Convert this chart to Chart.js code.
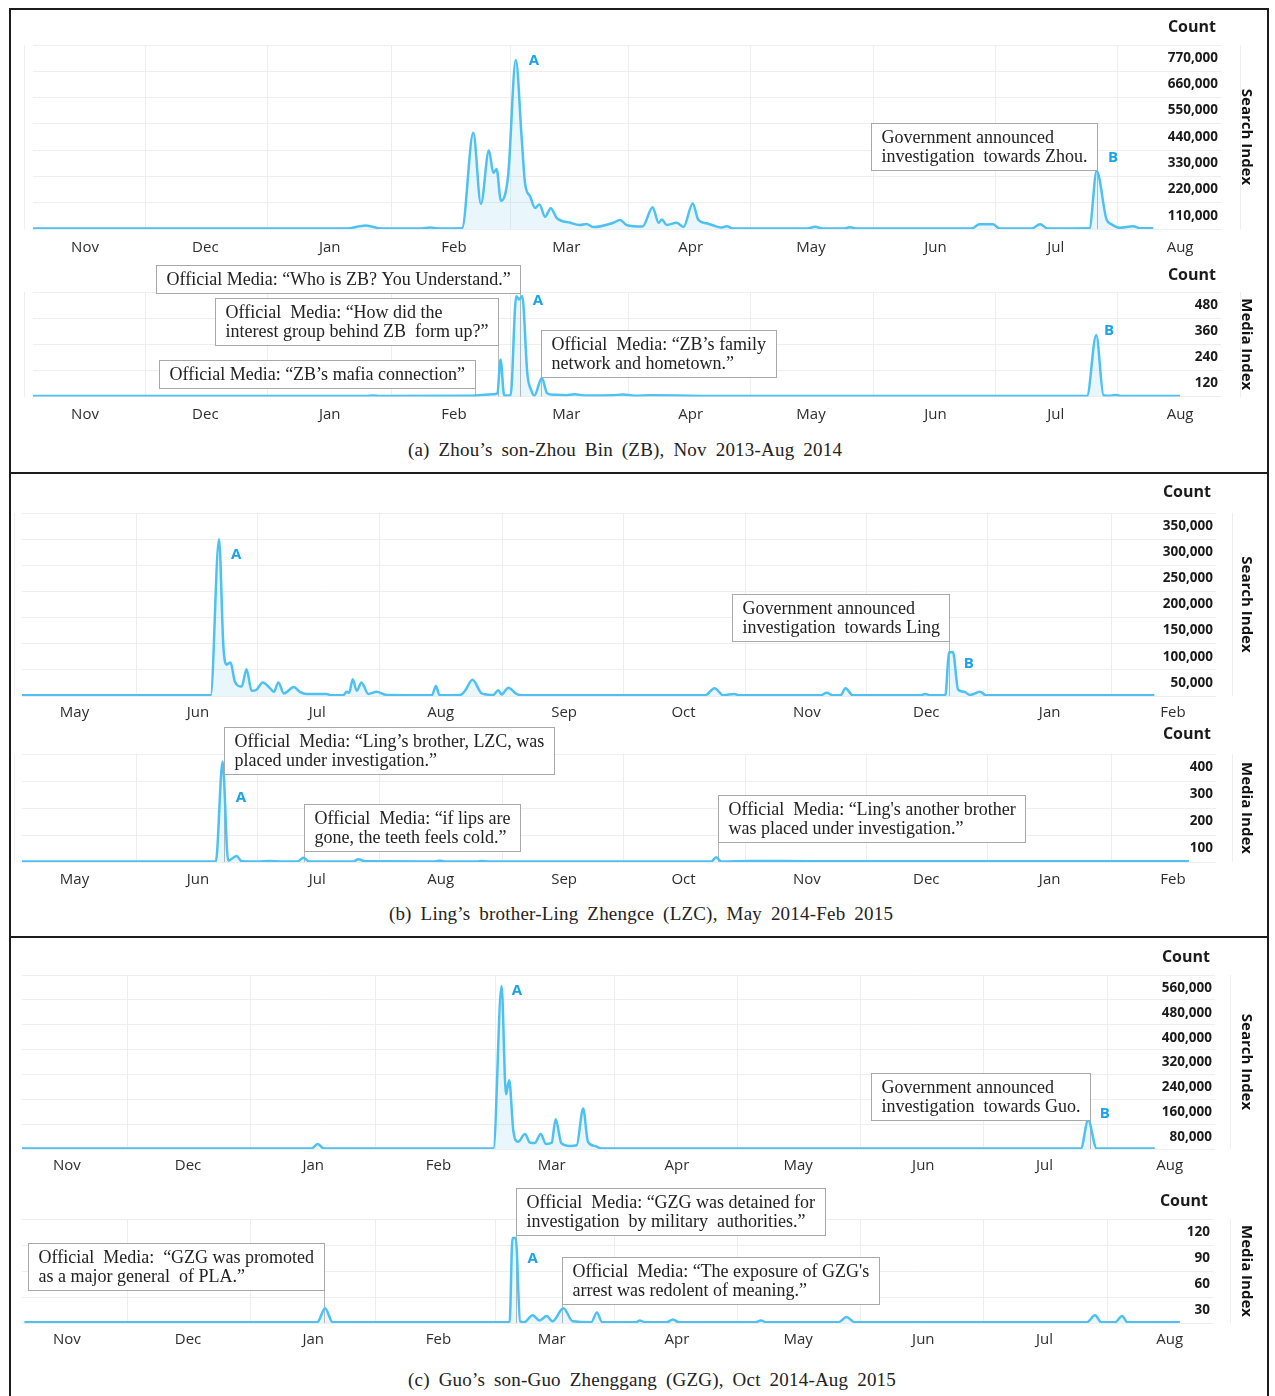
<!DOCTYPE html>
<html>
<head>
<meta charset="utf-8">
<script src="https://cdn.jsdelivr.net/npm/chart.js@4.4.1/dist/chart.umd.min.js"></script>
<style>
  html, body { margin: 0; padding: 0; background: #fff; }
  #page { position: relative; width: 1275px; height: 1396px; overflow: hidden; background: #fff; }
  .panel { position: absolute; left: 9px; width: 1260px; border: 2px solid #1c1c1c; box-sizing: border-box; }
  canvas { position: absolute; left: 10px; }
  .caption { position: absolute; width: 800px; text-align: center; white-space: nowrap;
             font-family: "Liberation Serif", "Times New Roman", serif; font-size: 19px; line-height: 22px;
             color: #222; word-spacing: 4px; letter-spacing: 0.2px; }
</style>
</head>
<body>
<div id="page">
  <div class="panel" style="top:8px;height:466px"></div>
  <div class="panel" style="top:472px;height:466px"></div>
  <div class="panel" style="top:936px;height:462px"></div>

  <canvas id="zbSearch"></canvas>
  <canvas id="zbMedia"></canvas>
  <div class="caption" style="left:225px;top:439px">(a) Zhou’s son-Zhou Bin (ZB), Nov 2013-Aug 2014</div>

  <canvas id="lzcSearch"></canvas>
  <canvas id="lzcMedia"></canvas>
  <div class="caption" style="left:241px;top:903px">(b) Ling’s brother-Ling Zhengce (LZC), May 2014-Feb 2015</div>

  <canvas id="gzgSearch"></canvas>
  <canvas id="gzgMedia"></canvas>
  <div class="caption" style="left:252px;top:1369px">(c) Guo’s son-Guo Zhenggang (GZG), Oct 2014-Aug 2015</div>
</div>

<script>
// ---------- month axes (day offsets of each month's first day) ----------
const monthsNovAug = ['Nov', 'Dec', 'Jan', 'Feb', 'Mar', 'Apr', 'May', 'Jun', 'Jul', 'Aug'];
const monthStartsNovAug = [0, 30, 61, 92, 120, 151, 181, 212, 242, 273];
const monthsMayFeb = ['May', 'Jun', 'Jul', 'Aug', 'Sep', 'Oct', 'Nov', 'Dec', 'Jan', 'Feb'];
const monthStartsMayFeb = [0, 31, 61, 92, 123, 153, 184, 214, 245, 276];

// ---------- (a) Zhou Bin, days since 1 Nov 2013 ----------
const zbSearchDay = [-13, 65, 70, 74, 84, 86, 88, 94, 96.8, 98.7, 100.7, 101.8, 102.6, 103.7, 105.5, 107.4,
  108.9, 109.7, 111, 112.2, 113.3, 114.7, 116.1, 117.6, 121, 123.4, 125, 126.7, 131.7, 133.4, 135, 139,
  141.5, 143, 143.8, 145, 147.5, 149.2, 151.5, 152.9, 155, 157.5, 158.5, 160, 161.5, 180, 182, 184,
  189, 190.7, 192.5, 221, 223, 226.4, 228, 236, 238.1, 240, 250.4, 252.2, 254.7, 255.8, 258, 261.3, 263, 266.3];
const zbSearchCount = [2000, 2000, 15000, 2000, 2000, 6000, 2000, 3000, 403000, 105000, 328000, 235000, 251000, 118000, 226000, 707000,
  372000, 192000, 135000, 88000, 103000, 51000, 87000, 46000, 26000, 17000, 21000, 8000, 26000, 38000, 17000, 10000,
  91000, 26000, 40000, 17000, 26000, 8000, 107000, 38000, 24000, 10000, 6000, 11000, 2000, 2000, 9000, 2000,
  2000, 7000, 2000, 2000, 20000, 20000, 2000, 2000, 20000, 2000, 3000, 243000, 38000, 21000, 5000, 12000, 3000, 3000];

const zbMediaDay = [-13, 70, 71.8, 73.5, 96, 101.7, 102.8, 103.6, 104.5, 106.1, 107.5, 108.3, 109.0, 110.3, 111.2,
  112.0, 113.9, 115.2, 117, 120, 122, 125, 131.6, 134.1, 137, 141, 160, 249.8, 252.1, 253.9, 255.5, 256.8, 258.5, 273];
const zbMediaCount = [2, 2, 5, 2, 3, 10, 15, 170, 5, 5, 460, 445, 462, 100, 30,
  4, 85, 15, 8, 6, 10, 5, 6, 9, 4, 6, 2, 2, 283, 6, 3, 7, 2, 2];

// ---------- (b) Ling Zhengce, days since 1 May 2014 ----------
const lzcSearchDay = [-13.2, 34.2, 36.3, 37.4, 38.2, 39.2, 40.3, 42, 43.2, 44.5, 45.7, 47.3, 49.1, 50.1, 51.2, 52.6,
  55.1, 56.6, 58.3, 63.3, 64.5, 67.5, 68.4, 69.0, 69.9, 70.9, 72.1, 73.8, 75.9, 78.4, 89.8, 90.8, 91.7,
  96.9, 98.1, 100, 102.3, 105.2, 106.5, 107.3, 109, 111, 112.7, 158.5, 160.8, 163, 165.8, 167, 187.5, 189,
  190.5, 192.5, 193.7, 195.5, 212.5, 213.8, 215, 218.8, 219.7, 220.7, 222, 223.5, 225, 227.5, 229, 271.3];
const lzcSearchCount = [1500, 1500, 300000, 95000, 60000, 64000, 27000, 18000, 51000, 10000, 12000, 26000, 15000, 8000, 26000, 5000,
  17000, 8000, 4000, 4000, 1500, 1500, 8000, 6000, 32000, 10000, 26000, 4000, 8000, 2000, 1500, 19000, 1500,
  2000, 10000, 31000, 5000, 2000, 11000, 3000, 16000, 4000, 1500, 1500, 15000, 1500, 4000, 1500, 1500, 6000,
  1500, 1500, 15000, 1500, 1500, 4000, 1500, 1500, 83000, 84000, 12000, 8000, 2000, 8000, 1500, 1500];

const lzcMediaDay = [-13.2, 35.5, 37.2, 38.6, 40.7, 42, 46, 49, 52, 56, 57.5, 59, 70, 71.3, 73, 90.5, 91.8, 93,
  101, 102.3, 104, 160, 161.2, 162.5, 170, 185, 200, 230, 250, 280];
const lzcMediaCount = [2, 2, 371, 5, 22, 3, 2, 4, 2, 2, 16, 2, 2, 10, 3, 2, 5, 2,
  2, 4, 2, 2, 18, 2, 4, 3, 3, 3, 3, 3];

// ---------- (c) Guo Zhenggang, days since 1 Nov 2014 ----------
const gzgSearchDay = [-11.1, 60.5, 62.1, 63.7, 105.6, 107.6, 108.7, 109.5, 110.5, 111.7, 113.4, 114.6, 115.8,
  117.3, 118.6, 120, 121, 122.4, 124.5, 126.2, 127.8, 129, 130.7, 132.4, 251, 252.8, 254.9, 269.3];
const gzgSearchCount = [1500, 1500, 16000, 1500, 1500, 525000, 176000, 221000, 61000, 23000, 48000, 21000, 19000,
  48000, 16000, 20000, 96000, 19000, 10000, 12000, 130000, 23000, 10000, 1500, 1500, 93000, 2000, 1500];

const gzgMediaDay = [-10.5, 62, 63.9, 65.8, 109.6, 110.3, 111.1, 112.2, 113.2, 115.3, 117, 118.8, 120.2, 122.9, 125.2,
  129.8, 131.2, 132.5, 141, 141.8, 143, 148.5, 150, 151.5, 170.5, 171.8, 173, 191, 193, 195, 252.5, 254.5, 256,
  259.5, 261.2, 262.5, 275.5];
const gzgMediaCount = [1, 1, 17, 1, 1, 98, 98, 2, 1, 9, 3, 8, 2, 17, 2,
  1, 12, 1, 1, 3, 1, 1, 4, 1, 1, 3, 1, 1, 7, 1, 1, 9, 1,
  1, 8, 1, 1];

// ---------- callout texts ----------
const zbSearchNotes = [['Government announced', 'investigation  towards Zhou.']];
const zbMediaNotes = [
  ['Official Media: “Who is ZB? You Understand.”'],
  ['Official  Media: “How did the', 'interest group behind ZB  form up?”'],
  ['Official Media: “ZB’s mafia connection”'],
  ['Official  Media: “ZB’s family', 'network and hometown.”']
];
const lzcSearchNotes = [['Government announced', 'investigation  towards Ling']];
const lzcMediaNotes = [
  ['Official  Media: “Ling’s brother, LZC, was', 'placed under investigation.”'],
  ['Official  Media: “if lips are', 'gone, the teeth feels cold.”'],
  ['Official  Media: “Ling\'s another brother', 'was placed under investigation.”']
];
const gzgSearchNotes = [['Government announced', 'investigation  towards Guo.']];
const gzgMediaNotes = [
  ['Official  Media: “GZG was detained for', 'investigation  by military  authorities.”'],
  ['Official  Media:  “GZG was promoted', 'as a major general  of PLA.”'],
  ['Official  Media: “The exposure of GZG\'s', 'arrest was redolent of meaning.”']
];

// ---------- drawing styles ----------
const FONT_SANS = '"Open Sans", "Noto Sans", "DejaVu Sans", sans-serif';
const FONT_SERIF = '"Liberation Serif", "Times New Roman", serif';
const LINE_COLOR = '#4ec1f2';
const FILL_COLOR = 'rgba(78,193,242,0.12)';
const LETTER_COLOR = '#19a4e8';
const GRID_COLOR = '#eeeeee';
const CANVAS_LEFT = 10;
const CANVAS_W = 1256;
const NOTE_LINE = 19;
const NOTE_PAD = 10;

// Callout boxes, peak letters and the "Count" heading, drawn with the chart's own scales.
const callouts = {
  id: 'callouts',
  beforeDatasetsDraw(chart, _args, o) {
    const { ctx, chartArea, scales: { x, y } } = chart;
    ctx.save();
    ctx.strokeStyle = '#b8b8b8';
    ctx.lineWidth = 1;
    (o.boxes || []).forEach(b => {
      const px = Math.round(x.getPixelForValue(b.day)) + 0.5;
      const top = Math.round(y.getPixelForValue(b.top)) + 0.5;
      const h = b.lines.length * NOTE_LINE + 9;
      ctx.beginPath();
      ctx.moveTo(px, top + h);
      ctx.lineTo(px, chartArea.bottom);
      ctx.stroke();
    });
    ctx.restore();
  },
  afterDatasetsDraw(chart, _args, o) {
    const { ctx, chartArea, scales: { x, y } } = chart;
    ctx.save();
    ctx.font = `18px ${FONT_SERIF}`;
    (o.boxes || []).forEach(b => {
      const px = Math.round(x.getPixelForValue(b.day)) + 0.5;
      const top = Math.round(y.getPixelForValue(b.top)) + 0.5;
      const textW = Math.max(...b.lines.map(t => ctx.measureText(t).width));
      const w = Math.round(textW + 2 * NOTE_PAD);
      const h = b.lines.length * NOTE_LINE + 9;
      const left = b.edge === 'right' ? px - w : px;
      ctx.fillStyle = '#ffffff';
      ctx.fillRect(left, top, w, h);
      ctx.strokeStyle = '#a8a8a8';
      ctx.lineWidth = 1;
      ctx.strokeRect(left, top, w, h);
      ctx.fillStyle = '#222222';
      ctx.textAlign = 'left';
      ctx.textBaseline = 'middle';
      b.lines.forEach((t, i) => ctx.fillText(t, left + NOTE_PAD, top + 5 + NOTE_LINE / 2 + i * NOTE_LINE));
    });
    ctx.font = `bold 15px ${FONT_SANS}`;
    ctx.fillStyle = LETTER_COLOR;
    ctx.textAlign = 'center';
    ctx.textBaseline = 'middle';
    (o.letters || []).forEach(l => ctx.fillText(l.text, x.getPixelForValue(l.day), y.getPixelForValue(l.value)));
    ctx.font = `bold 16px ${FONT_SANS}`;
    ctx.fillStyle = '#1a1a1a';
    ctx.textAlign = 'right';
    ctx.fillText('Count', chartArea.right - 5, chartArea.top - o.countGap);
    ctx.restore();
  }
};

function buildChart(id, spec) {
  const f = spec.frame;
  const canvas = document.getElementById(id);
  canvas.width = CANVAS_W;
  canvas.height = f.height;
  canvas.style.top = f.top + 'px';
  const H = f.height;

  const names = new Map(spec.monthStarts.map((d, i) => [d, spec.months[i]]));
  const s = spec.monthStarts;
  const mids = s.slice(0, -1).map((d, i) => (d + s[i + 1]) / 2);
  mids.unshift(s[0] - 15);
  mids.push(s[s.length - 1] + 15);
  const gridSet = new Set(mids);
  const allTicks = s.concat(mids).sort((a, b) => a - b);

  const points = spec.days.map((d, i) => ({ x: d, y: spec.counts[i] }));

  return new Chart(canvas, {
    type: 'line',
    data: {
      datasets: [{
        data: points,
        borderColor: LINE_COLOR,
        backgroundColor: FILL_COLOR,
        borderWidth: 2.5,
        fill: 'origin',
        pointRadius: 0,
        cubicInterpolationMode: 'monotone',
        borderJoinStyle: 'round'
      }]
    },
    options: {
      responsive: false,
      animation: false,
      devicePixelRatio: 1,
      layout: { padding: { top: f.areaTop - f.top, left: f.areaLeft - CANVAS_LEFT, right: 0, bottom: 0 } },
      plugins: {
        legend: { display: false },
        tooltip: { enabled: false },
        callouts: { boxes: spec.boxes, letters: spec.letters, countGap: f.countGap }
      },
      scales: {
        x: {
          type: 'linear',
          min: spec.xMin,
          max: spec.xMax,
          afterBuildTicks: sc => { sc.ticks = allTicks.map(v => ({ value: v })); },
          ticks: {
            autoSkip: false, maxRotation: 0, padding: f.labelGap - 9,
            font: { family: FONT_SANS, size: 15 }, color: '#2e2e2e',
            callback: v => names.has(v) ? names.get(v) : ''
          },
          grid: {
            drawTicks: false,
            color: c => (c.tick && gridSet.has(c.tick.value)) ? GRID_COLOR : 'rgba(0,0,0,0)'
          },
          border: { display: false },
          afterFit: sc => { sc.height = H - (f.areaBottom - f.top); sc.paddingLeft = 0; sc.paddingRight = 0; }
        },
        y: {
          position: 'right',
          min: 0,
          max: spec.yMax,
          ticks: {
            stepSize: spec.yStep, mirror: true, padding: -3, labelOffset: 13,
            font: { family: FONT_SANS, size: 13.5, weight: 'bold' }, color: '#1a1a1a',
            callback: v => v === 0 ? '' : v.toLocaleString('en-US')
          },
          grid: { drawTicks: false, color: GRID_COLOR },
          border: { display: false },
          title: {
            display: true, text: spec.axisTitle, color: '#111111',
            font: { family: FONT_SANS, size: 15, weight: 'bold' }, padding: { top: 11, bottom: 0 }
          },
          afterFit: sc => { sc.width = CANVAS_LEFT + CANVAS_W - f.areaRight; sc.paddingTop = 0; sc.paddingBottom = 0; }
        }
      }
    },
    plugins: [callouts]
  });
}

// ---------- panel (a) ----------
buildChart('zbSearch', {
  frame: { top: 10, height: 252, areaTop: 45, areaBottom: 229, areaLeft: 33, areaRight: 1221, labelGap: 19, countGap: 18 },
  months: monthsNovAug, monthStarts: monthStartsNovAug, xMin: -12.96, xMax: 283.2,
  days: zbSearchDay, counts: zbSearchCount, yMax: 770000, yStep: 110000, axisTitle: 'Search Index',
  boxes: [{ lines: zbSearchNotes[0], day: 252.2, edge: 'right', top: 443000 }],
  letters: [{ text: 'A', day: 111.9, value: 703000 }, { text: 'B', day: 256.3, value: 297000 }]
});
buildChart('zbMedia', {
  frame: { top: 256, height: 172, areaTop: 292, areaBottom: 396.5, areaLeft: 33, areaRight: 1221, labelGap: 18.5, countGap: 17 },
  months: monthsNovAug, monthStarts: monthStartsNovAug, xMin: -12.96, xMax: 283.2,
  days: zbMediaDay, counts: zbMediaCount, yMax: 480, yStep: 120, axisTitle: 'Media Index',
  boxes: [
    { lines: zbMediaNotes[0], day: 108.5, edge: 'right', top: 605 },
    { lines: zbMediaNotes[1], day: 103.0, edge: 'right', top: 453 },
    { lines: zbMediaNotes[2], day: 97.2, edge: 'right', top: 168 },
    { lines: zbMediaNotes[3], day: 113.7, edge: 'left', top: 306 }
  ],
  letters: [{ text: 'A', day: 112.9, value: 439 }, { text: 'B', day: 255.3, value: 301 }]
});

// ---------- panel (b) ----------
buildChart('lzcSearch', {
  frame: { top: 476, height: 248, areaTop: 513, areaBottom: 696, areaLeft: 22, areaRight: 1216, labelGap: 17, countGap: 21 },
  months: monthsMayFeb, monthStarts: monthStartsMayFeb, xMin: -13.2, xMax: 286.8,
  days: lzcSearchDay, counts: lzcSearchCount, yMax: 350000, yStep: 50000, axisTitle: 'Search Index',
  boxes: [{ lines: lzcSearchNotes[0], day: 219.7, edge: 'right', top: 196000 }],
  letters: [{ text: 'A', day: 40.6, value: 271000 }, { text: 'B', day: 224.7, value: 61500 }]
});
buildChart('lzcMedia', {
  frame: { top: 718, height: 174, areaTop: 754, areaBottom: 862, areaLeft: 22, areaRight: 1216, labelGap: 18, countGap: 20 },
  months: monthsMayFeb, monthStarts: monthStartsMayFeb, xMin: -13.2, xMax: 286.8,
  days: lzcMediaDay, counts: lzcMediaCount, yMax: 400, yStep: 100, axisTitle: 'Media Index',
  boxes: [
    { lines: lzcMediaNotes[0], day: 37.5, edge: 'left', top: 501 },
    { lines: lzcMediaNotes[1], day: 57.6, edge: 'left', top: 213 },
    { lines: lzcMediaNotes[2], day: 161.7, edge: 'left', top: 250 }
  ],
  letters: [{ text: 'A', day: 41.8, value: 239 }]
});

// ---------- panel (c) ----------
buildChart('gzgSearch', {
  frame: { top: 940, height: 240, areaTop: 975, areaBottom: 1149, areaLeft: 22, areaRight: 1215, labelGap: 17, countGap: 18 },
  months: monthsNovAug, monthStarts: monthStartsNovAug, xMin: -11.1, xMax: 284.2,
  days: gzgSearchDay, counts: gzgSearchCount, yMax: 560000, yStep: 80000, axisTitle: 'Search Index',
  boxes: [{ lines: gzgSearchNotes[0], day: 253.2, edge: 'right', top: 243000 }],
  letters: [{ text: 'A', day: 111.4, value: 509000 }, { text: 'B', day: 256.9, value: 115000 }]
});
buildChart('gzgMedia', {
  frame: { top: 1180, height: 172, areaTop: 1219, areaBottom: 1323, areaLeft: 22, areaRight: 1213, labelGap: 17, countGap: 18 },
  months: monthsNovAug, monthStarts: monthStartsNovAug, xMin: -11.1, xMax: 283.7,
  days: gzgMediaDay, counts: gzgMediaCount, yMax: 120, yStep: 30, axisTitle: 'Media Index',
  boxes: [
    { lines: gzgMediaNotes[0], day: 111.1, edge: 'left', top: 156 },
    { lines: gzgMediaNotes[1], day: 63.6, edge: 'right', top: 92 },
    { lines: gzgMediaNotes[2], day: 122.5, edge: 'left', top: 76 }
  ],
  letters: [{ text: 'A', day: 115.3, value: 74 }]
});
</script>
</body>
</html>
